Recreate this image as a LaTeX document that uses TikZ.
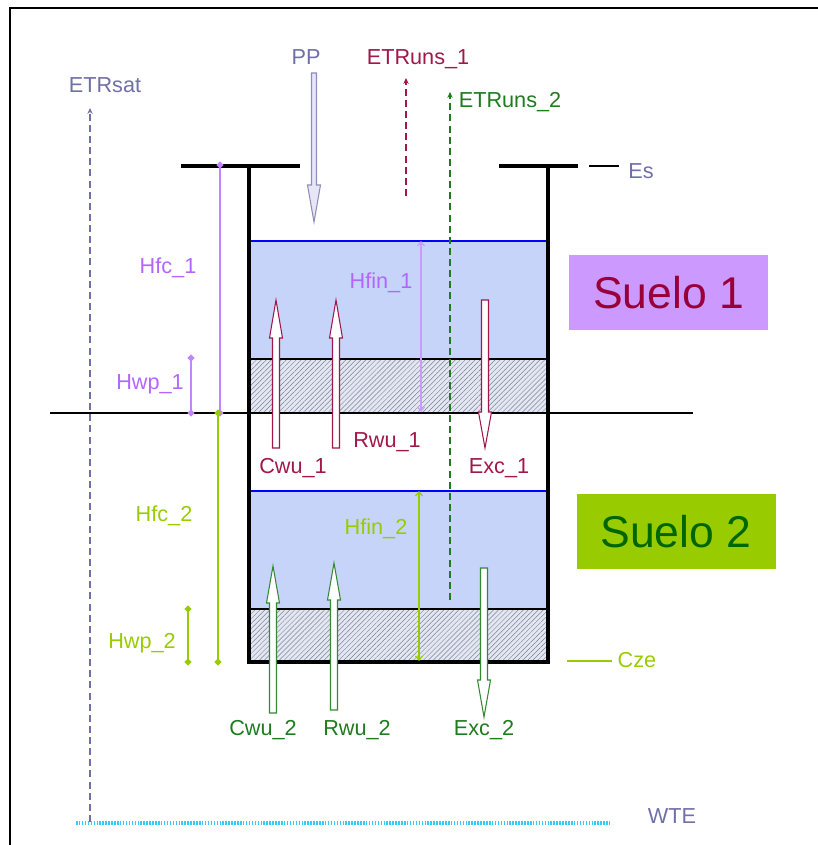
\documentclass[tikz,border=0pt]{standalone}
\usepackage{fontspec}
\setmainfont{Liberation Sans}
\usepackage{tikz}
\usetikzlibrary{arrows.meta,patterns.meta}
\definecolor{slatex}{HTML}{7070A8}
\definecolor{lavx}{HTML}{E6E6F6}
\definecolor{maroonx}{HTML}{A0174A}
\definecolor{vinox}{HTML}{99003A}
\definecolor{greenx}{HTML}{1E7B1E}
\definecolor{darkgreenx}{HTML}{006600}
\definecolor{purplex}{HTML}{B266FF}
\definecolor{lilacx}{HTML}{CC99FF}
\definecolor{ygx}{HTML}{99CC00}
\definecolor{suelo1x}{HTML}{CC99FF}
\definecolor{aguax}{HTML}{C6D4FA}
\definecolor{rayfondo}{HTML}{E2E7F1}
\definecolor{rayline}{HTML}{7A8094}
\definecolor{cyanx}{HTML}{33CCFF}
\newcommand{\flecha}[7]{\filldraw[draw=#1,fill=#2,line width=0.9pt,line join=miter] (#3-#7,#4) -- (#3-#7,#5) -- (#3-6.5,#5) -- (#3,#6) -- (#3+6.5,#5) -- (#3+#7,#5) -- (#3+#7,#4) -- cycle;}
\tikzset{
  lbl/.style={font=\fontsize{18.5}{20}\selectfont,anchor=base,inner sep=0pt},
  wall/.style={line width=2.6pt,black},
  cota/.style={line width=1pt,shorten <=-3pt,shorten >=-3pt,{Turned Square[length=6pt,width=6pt]}-{Turned Square[length=6pt,width=6pt]}},
  nivel/.style={line width=1pt,{Straight Barb[length=3.5pt,width=6pt]}-{Straight Barb[length=3.5pt,width=6pt]}},
  etr/.style={line width=1.2pt,dash pattern=on 6pt off 3.5pt,-{Stealth[length=5pt,width=4.5pt]}},
  rayado/.style={preaction={fill=rayfondo},pattern={Lines[angle=45,distance=3pt,line width=0.4pt]},pattern color=rayline},
  suelo/.style={inner sep=0pt,minimum width=5.97cm,minimum height=2.25cm,font=\fontsize{38}{40}\selectfont}
}

\begin{document}
\begin{tikzpicture}[x=0.03cm,y=-0.03cm]
\useasboundingbox (0,0) rectangle (818,845);
\fill[aguax] (249,241) rectangle (548,359);
\fill[rayado] (249,359) rectangle (548,413);
\fill[aguax] (249,491) rectangle (548,609);
\fill[rayado] (249,609) rectangle (548,662);
\draw[blue,line width=1.1pt] (249,241) -- (548,241);
\draw[blue,line width=1.1pt] (249,491) -- (548,491);
\draw[black,line width=2pt] (249,359) -- (548,359) (249,609) -- (548,609);
\draw[black,line width=2.2pt] (50,413) -- (693,413);
\draw[wall] (249,165) -- (249,662) -- (548,662) -- (548,165);
\draw[wall] (181,166) -- (300,166) (499,166) -- (578,166);
\draw[black,line width=1.3pt] (589,166) -- (619,166);
\draw[ygx,line width=1.1pt] (567,661) -- (612,661);
\draw[cota,purplex!80] (220,165) -- (220,413);
\draw[cota,purplex!80] (191,358) -- (191,413);
\draw[cota,ygx] (218,413) -- (218,662);
\draw[cota,ygx] (188,609) -- (188,662);
\draw[nivel,lilacx] (421,241) -- (421,412);
\draw[nivel,ygx] (419,491) -- (419,661);
\draw[etr,slatex,line width=1pt,dash pattern=on 6pt off 3.5pt] (90,822) -- (90,108);
\draw[etr,maroonx] (406,196) -- (406,78);
\draw[etr,greenx] (450,600) -- (450,92);
\flecha{slatex!80}{lavx}{314}{73}{185}{222}{2.5}
\flecha{maroonx}{white}{276}{448}{338}{300}{3.5}
\flecha{maroonx}{white}{336}{448}{338}{300}{3.5}
\flecha{maroonx}{white}{485}{300}{412}{448}{3.5}
\flecha{greenx!90!white}{white}{273}{713}{603}{566}{3.5}
\flecha{greenx!90!white}{white}{334}{710}{600}{563}{3.5}
\flecha{greenx!90!white}{white}{484}{568}{680}{717}{3.5}
\node[suelo,fill=suelo1x,text=vinox] (suelo1) at (668.5,292.5) {Suelo 1};
\node[suelo,fill=ygx,text=darkgreenx] (suelo2) at (676,531.5) {Suelo 2};
\node[lbl,slatex] (etrsat) at (105,93) {ETRsat};
\node[lbl,slatex] (pp) at (306,65) {PP};
\node[lbl,maroonx] (etruns1) at (418,65) {ETRuns\_1};
\node[lbl,greenx] (etruns2) at (510,108) {ETRuns\_2};
\node[lbl,slatex] (es) at (641,178) {Es};
\node[lbl,purplex] (hfc1) at (168,273) {Hfc\_1};
\node[lbl,purplex] (hfin1) at (381,288) {Hfin\_1};
\node[lbl,purplex] (hwp1) at (150,389) {Hwp\_1};
\node[lbl,maroonx] (rwu1) at (387,447) {Rwu\_1};
\node[lbl,maroonx] (cwu1) at (293,473) {Cwu\_1};
\node[lbl,maroonx] (exc1) at (499,473) {Exc\_1};
\node[lbl,ygx] (hfc2) at (164,521) {Hfc\_2};
\node[lbl,ygx] (hfin2) at (376,534) {Hfin\_2};
\node[lbl,ygx] (hwp2) at (142,648) {Hwp\_2};
\node[lbl,ygx] (cze) at (637,667) {Cze};
\node[lbl,greenx] (cwu2) at (263,735) {Cwu\_2};
\node[lbl,greenx] (rwu2) at (357,735) {Rwu\_2};
\node[lbl,greenx] (exc2) at (484,735) {Exc\_2};
\node[lbl,slatex] (wte) at (672,823) {WTE};
\draw[cyanx,line width=2.6pt,dash pattern=on 1.3pt off 1.2pt] (76,823) -- (610,823);
\draw[black,line width=1.3pt] (10,845) -- (10,8) -- (818,8);
\end{tikzpicture}
\end{document}
